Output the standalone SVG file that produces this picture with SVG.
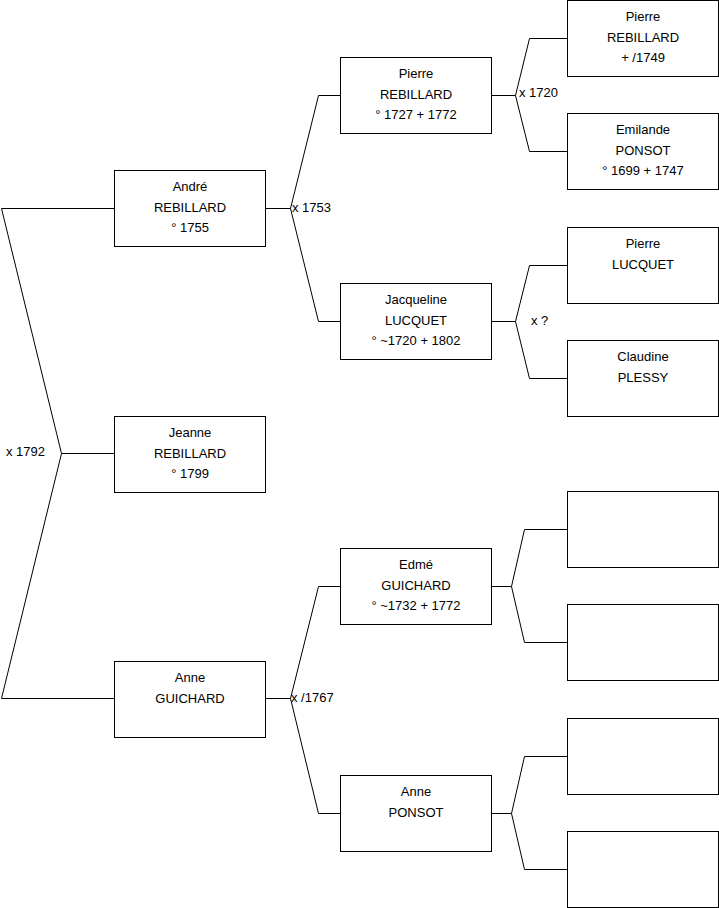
<svg xmlns="http://www.w3.org/2000/svg" width="719" height="908" viewBox="0 0 719 908">
<style>
.box{fill:#fff;stroke:#000;stroke-width:1}
.t{font-family:"Liberation Sans",Arial,sans-serif;font-size:13px;fill:#000;text-anchor:middle}
.l{font-family:"Liberation Sans",Arial,sans-serif;font-size:13px;fill:#000}
.c{fill:none;stroke:#000;stroke-width:1}
</style>
<rect width="719" height="908" fill="#fff"/>
<g id="connectors">
<path class="c" d="M114.5,208.5H1.5L61.5,453.5L1.5,698.5H114.5M61.5,453.5H114.5"/>
<path class="c" d="M265.5,208.5H290.5L318.5,95.5H340.5M290.5,208.5L318.5,321.5H340.5"/>
<path class="c" d="M491.5,95.5H515.5L529.5,38.5H567.5M515.5,95.5L529.5,151.5H567.5"/>
<path class="c" d="M491.5,321.5H515.5L529.5,265.5H567.5M515.5,321.5L529.5,378.5H567.5"/>
<path class="c" d="M491.5,586.5H511.5L524.5,529.5H567.5M511.5,586.5L524.5,642.5H567.5"/>
<path class="c" d="M265.5,698.5H290.5L318.5,586.5H340.5M290.5,698.5L318.5,813.5H340.5"/>
<path class="c" d="M491.5,813.5H511.5L524.5,756.5H567.5M511.5,813.5L524.5,869.5H567.5"/>
<text class="l" x="6" y="456">x 1792</text>
<text class="l" x="292" y="212">x 1753</text>
<text class="l" x="519" y="97">x 1720</text>
<text class="l" x="531" y="325">x ?</text>
<text class="l" x="291" y="702">x /1767</text>
</g>
<g id="andre"><rect class="box" x="114.5" y="170.5" width="151" height="76"/><text class="t" x="190" y="191">André</text><text class="t" x="190" y="212">REBILLARD</text><text class="t" x="190" y="232">° 1755</text></g>
<g id="jeanne"><rect class="box" x="114.5" y="416.5" width="151" height="76"/><text class="t" x="190" y="437">Jeanne</text><text class="t" x="190" y="458">REBILLARD</text><text class="t" x="190" y="478">° 1799</text></g>
<g id="anne-guichard"><rect class="box" x="114.5" y="661.5" width="151" height="76"/><text class="t" x="190" y="682">Anne</text><text class="t" x="190" y="703">GUICHARD</text></g>
<g id="pierre-rebillard-1727"><rect class="box" x="340.5" y="57.5" width="151" height="76"/><text class="t" x="416" y="78">Pierre</text><text class="t" x="416" y="99">REBILLARD</text><text class="t" x="416" y="119">° 1727 + 1772</text></g>
<g id="jacqueline"><rect class="box" x="340.5" y="283.5" width="151" height="76"/><text class="t" x="416" y="304">Jacqueline</text><text class="t" x="416" y="325">LUCQUET</text><text class="t" x="416" y="345">° ~1720 + 1802</text></g>
<g id="edme"><rect class="box" x="340.5" y="548.5" width="151" height="76"/><text class="t" x="416" y="569">Edmé</text><text class="t" x="416" y="590">GUICHARD</text><text class="t" x="416" y="610">° ~1732 + 1772</text></g>
<g id="anne-ponsot"><rect class="box" x="340.5" y="775.5" width="151" height="76"/><text class="t" x="416" y="796">Anne</text><text class="t" x="416" y="817">PONSOT</text></g>
<g id="pierre-rebillard-1749"><rect class="box" x="567.5" y="0.5" width="151" height="76"/><text class="t" x="643" y="21">Pierre</text><text class="t" x="643" y="42">REBILLARD</text><text class="t" x="643" y="62">+ /1749</text></g>
<g id="emilande"><rect class="box" x="567.5" y="113.5" width="151" height="76"/><text class="t" x="643" y="134">Emilande</text><text class="t" x="643" y="155">PONSOT</text><text class="t" x="643" y="175">° 1699 + 1747</text></g>
<g id="pierre-lucquet"><rect class="box" x="567.5" y="227.5" width="151" height="76"/><text class="t" x="643" y="248">Pierre</text><text class="t" x="643" y="269">LUCQUET</text></g>
<g id="claudine"><rect class="box" x="567.5" y="340.5" width="151" height="76"/><text class="t" x="643" y="361">Claudine</text><text class="t" x="643" y="382">PLESSY</text></g>
<g id="empty1"><rect class="box" x="567.5" y="491.5" width="151" height="76"/></g>
<g id="empty2"><rect class="box" x="567.5" y="604.5" width="151" height="76"/></g>
<g id="empty3"><rect class="box" x="567.5" y="718.5" width="151" height="76"/></g>
<g id="empty4"><rect class="box" x="567.5" y="831.5" width="151" height="76"/></g>
</svg>
